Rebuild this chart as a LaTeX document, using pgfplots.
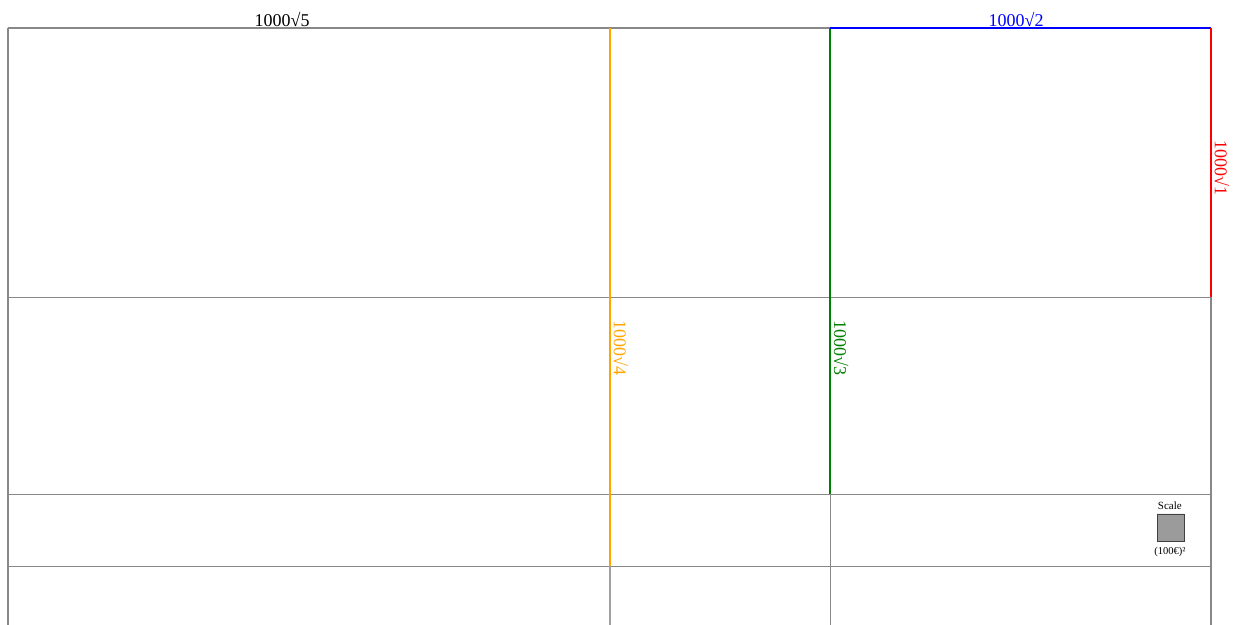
\documentclass[border=0pt]{standalone}
\usepackage{fontspec}
\setmainfont{Liberation Serif}
\usepackage{pgfplots}
\pgfplotsset{compat=1.18}
\definecolor{gridgray}{HTML}{888888}
\definecolor{sqgray}{HTML}{9B9B9B}
\definecolor{cOrange}{HTML}{FFA500}
\definecolor{cGreen}{HTML}{008000}
\definecolor{cBlue}{HTML}{0000FF}
\definecolor{cRed}{HTML}{FF0000}
\begin{document}
\begin{tikzpicture}
\begin{axis}[
  scale only axis,
  width=1236pt, height=625pt,
  xmin=-29.71, xmax=4560.8,
  ymin=-104.0, ymax=2217.3,
  y dir=reverse,
  hide axis,
  clip=true,
]
% invisible corners for bounding box
\addplot[draw=none] coordinates {(-29.71,-104.0) (4560.8,2217.3)};
% gray grid
\addplot[gridgray, line width=1.3pt] coordinates {(0,0) (3054,0)};
\addplot[gridgray, line width=1.3pt] coordinates {(0,1000) (4468,1000)};
\addplot[gridgray, line width=1.3pt] coordinates {(0,1732) (4468,1732)};
\addplot[gridgray, line width=1.3pt] coordinates {(0,2000) (4468,2000)};
\addplot[gridgray, line width=1.3pt] coordinates {(0,0) (0,2600)};
\addplot[gridgray!80, line width=1.3pt] coordinates {(2236,2000) (2236,2600)};
\addplot[gridgray, line width=1.3pt] coordinates {(3054,1732) (3054,2600)};
\addplot[gridgray, line width=1.3pt] coordinates {(4468,1000) (4468,2600)};
% coloured sides
\addplot[cOrange, line width=2pt] coordinates {(2236,0) (2236,2000)};
\addplot[cGreen, line width=2pt] coordinates {(3054,0) (3054,1732)};
\addplot[cBlue, line width=2pt] coordinates {(3054,0) (4468,0)};
\addplot[cRed, line width=2pt] coordinates {(4468,0) (4468,1000)};
% scale square
\addplot[fill=sqgray, draw=black!75, line width=0.8pt] coordinates {(4268,1805) (4368,1805) (4368,1905) (4268,1905) (4268,1805)};
% labels
\node[anchor=south, inner sep=1pt, font=\fontsize{18}{20}\selectfont] at (axis cs:1018,0) {1000√5};
\node[anchor=south, inner sep=1pt, text=cBlue, font=\fontsize{18}{20}\selectfont] at (axis cs:3744,0) {1000√2};
\node[anchor=south, rotate=-90, inner sep=3.5pt, text=cRed, font=\fontsize{18}{20}\selectfont] at (axis cs:4468,520) {1000√1};
\node[anchor=south, rotate=-90, inner sep=3.5pt, text=cOrange, font=\fontsize{18}{20}\selectfont] at (axis cs:2236,1190) {1000√4};
\node[anchor=south, rotate=-90, inner sep=3.5pt, text=cGreen, font=\fontsize{18}{20}\selectfont] at (axis cs:3054,1190) {1000√3};
\node[font=\fontsize{11}{12}\selectfont, inner sep=0pt] at (axis cs:4315,1775) {Scale};
\node[font=\fontsize{10.5}{12}\selectfont, inner sep=0pt] at (axis cs:4315,1945) {(100€)²};
\end{axis}
\end{tikzpicture}
\end{document}
